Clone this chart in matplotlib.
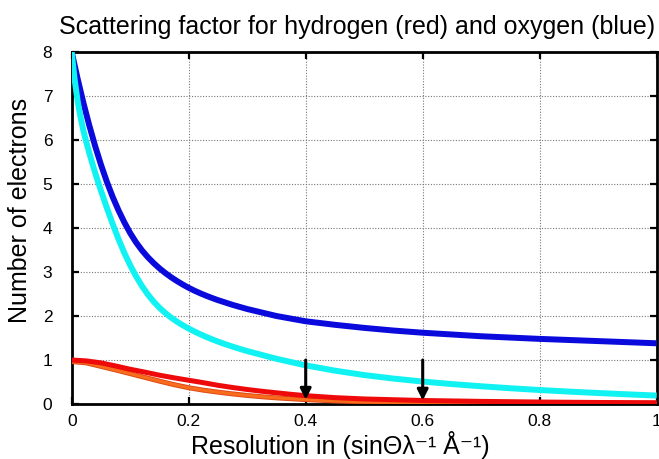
import matplotlib
matplotlib.use("Agg")
import matplotlib.pyplot as plt

plt.rcParams['font.family'] = ['Liberation Sans', 'DejaVu Sans']

# Oxygen (dark blue)
x_oxy_dark = [0.0, 0.01, 0.02, 0.03, 0.04, 0.05, 0.06, 0.07, 0.08, 0.09, 0.10, 0.11, 0.12, 0.13,
              0.14, 0.15, 0.16, 0.17, 0.18, 0.19, 0.20, 0.21, 0.22, 0.23, 0.24, 0.25, 0.275, 0.30,
              0.35, 0.40, 0.45, 0.50, 0.55, 0.60, 0.65, 0.70, 0.75, 0.80, 0.85, 0.90, 0.95, 1.0]
y_oxy_dark = [8.0, 7.40, 6.845, 6.335, 5.865, 5.44, 5.054, 4.708, 4.402, 4.129, 3.884, 3.674, 3.494, 3.339,
              3.204, 3.084, 2.977, 2.881, 2.794, 2.714, 2.641, 2.575, 2.515, 2.46, 2.409, 2.361, 2.253, 2.159,
              2.0, 1.88, 1.80, 1.73, 1.67, 1.62, 1.58, 1.54, 1.51, 1.48, 1.455, 1.43, 1.405, 1.38]
# Oxygen (cyan)
x_oxy_light = [0.0, 0.005, 0.01, 0.015, 0.02, 0.025, 0.03, 0.035, 0.04, 0.045, 0.05, 0.06, 0.07, 0.08,
               0.09, 0.10, 0.11, 0.12, 0.13, 0.14, 0.15, 0.16, 0.17, 0.18, 0.19, 0.20, 0.21, 0.22, 0.23,
               0.24, 0.25, 0.26, 0.27, 0.28, 0.29, 0.30, 0.35, 0.40, 0.45, 0.50, 0.55, 0.60, 0.65, 0.70,
               0.75, 0.80, 0.85, 0.90, 0.95, 1.0]
y_oxy_light = [8.0, 7.375, 6.9, 6.525, 6.21, 5.95, 5.71, 5.48, 5.26, 5.05, 4.848, 4.463, 4.093, 3.748,
               3.433, 3.153, 2.903, 2.683, 2.493, 2.328, 2.188, 2.068, 1.963, 1.871, 1.789, 1.715, 1.647, 1.584, 1.525,
               1.47, 1.419, 1.371, 1.326, 1.283, 1.242, 1.203, 1.028, 0.878, 0.758, 0.658, 0.578, 0.51, 0.453, 0.403,
               0.358, 0.318, 0.282, 0.25, 0.22, 0.192]
# Hydrogen (red)
x_hyd_red = [0.0, 0.025, 0.05, 0.075, 0.1, 0.125, 0.15, 0.175, 0.2, 0.225, 0.25, 0.275, 0.3, 0.325,
             0.35, 0.375, 0.4, 0.45, 0.5, 0.6, 0.7, 0.8, 0.9, 1.0]
y_hyd_red = [1.0, 0.98, 0.935, 0.865, 0.79, 0.725, 0.655, 0.595, 0.54, 0.485, 0.425, 0.375, 0.33, 0.29,
             0.255, 0.22, 0.19, 0.145, 0.115, 0.08, 0.06, 0.045, 0.035, 0.03]
# Hydrogen (orange)
x_hyd_orange = [0.0, 0.025, 0.05, 0.075, 0.1, 0.125, 0.15, 0.175, 0.2, 0.225, 0.25, 0.275, 0.3, 0.325,
                0.35, 0.375, 0.4, 0.45, 0.5, 0.6, 0.7, 0.8, 0.9, 1.0]
y_hyd_orange = [0.965, 0.935, 0.855, 0.775, 0.69, 0.605, 0.52, 0.44, 0.37, 0.315, 0.27, 0.23, 0.195, 0.165,
                0.14, 0.12, 0.1, 0.07, 0.05, 0.025, 0.015, 0.01, 0.005, 0.0]

arrow_x = [0.4, 0.6]
arrow_top = [1.0, 1.0]
arrow_tip = [0.1, 0.08]

xticks = [0, 0.2, 0.4, 0.6, 0.8, 1]
xticklabels = ["0", "0.2", "0.4", "0.6", "0.8", "1"]
yticks = [0, 1, 2, 3, 4, 5, 6, 7, 8]

fig = plt.figure(figsize=(6.59, 4.59), dpi=100)
ax = fig.add_axes([0.1088, 0.1198, 0.8877, 0.7669])

kw = dict(solid_capstyle="butt", solid_joinstyle="round")
ax.plot(x_oxy_dark, y_oxy_dark, color="#0a0adc", lw=4.3, zorder=3, **kw)
ax.plot(x_oxy_light, y_oxy_light, color="#11f2f2", lw=4.3, zorder=3, **kw)
ax.plot(x_hyd_orange, y_hyd_orange, color="#dc4818", lw=3.6, zorder=3, **kw)
ax.plot(x_hyd_orange, y_hyd_orange, color="#f86c1c", lw=2.3, zorder=3, **kw)
ax.plot(x_hyd_red, y_hyd_red, color="#ee0a0a", lw=3.6, zorder=4, **kw)

for xa, yt, yb in zip(arrow_x, arrow_top, arrow_tip):
    ax.annotate("", xy=(xa, yb), xytext=(xa, yt),
                arrowprops=dict(arrowstyle="-|>", color="black", lw=2.2,
                                mutation_scale=16, shrinkA=0, shrinkB=0),
                zorder=5)

ax.set_xlim(0, 1)
ax.set_ylim(0, 8)
ax.set_xticks(xticks)
ax.set_xticklabels(xticklabels)
ax.set_yticks(yticks)
ax.tick_params(direction="in", length=5, width=1.6, top=True, right=True,
               labelsize=12.5)
ax.tick_params(axis="x", pad=7)
ax.tick_params(axis="y", pad=14, labelright=False)
ax.grid(True, linestyle=(0, (1, 1.5)), color="#777777", lw=0.8)
for s in ax.spines.values():
    s.set_linewidth(2.0)

ax.set_title("Scattering factor for hydrogen (red) and oxygen (blue)", fontsize=18, pad=13, x=0.488)
ax.set_ylabel("Number of electrons", fontsize=18)
ax.yaxis.set_label_coords(-0.068, 0.55)
ax.set_xlabel("Resolution in (sinΘλ⁻¹ Å⁻¹)", fontsize=18)
ax.xaxis.set_label_coords(0.46, -0.076)

fig.savefig("out.png", dpi=100)
